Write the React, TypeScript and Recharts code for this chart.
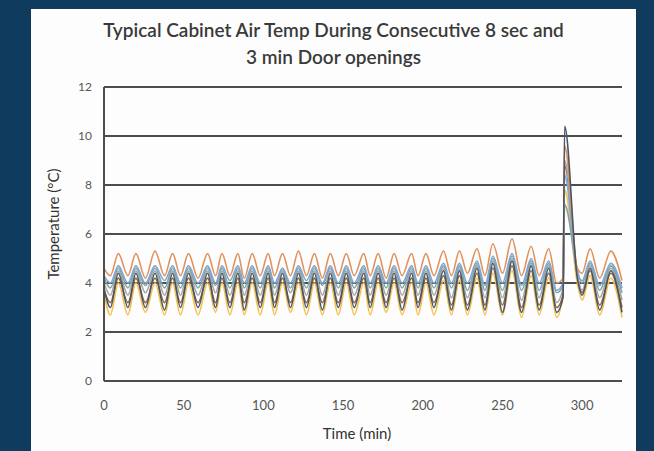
import { CartesianGrid, Line, LineChart, XAxis, YAxis } from "recharts";

// time (min) of each reading: troughs and peaks of the door-opening cycles, then the 3 min opening
const time = [
  0, 4, 9, 15, 20, 26, 32, 38, 43, 48,
  53, 59, 65, 70, 74, 79, 84, 88, 93, 98,
  103, 107, 112, 117, 122, 127, 132, 137, 142, 147,
  152, 157, 163, 167, 172, 177, 182, 187, 193, 197,
  202, 207, 213, 218, 223, 228, 234, 239, 244, 250,
  256, 262, 268, 273, 279, 284, 288, 289, 297, 300,
  305, 311, 318, 325,
];

const orange = [
  4.6, 4.3, 5.2, 4.3, 5.2, 4.2, 5.3, 4.3, 5.2, 4.3,
  5.2, 4.2, 5.2, 4.3, 5.2, 4.3, 5.2, 4.2, 5.2, 4.3,
  5.2, 4.3, 5.2, 4.3, 5.3, 4.3, 5.2, 4.2, 5.2, 4.3,
  5.2, 4.3, 5.2, 4.3, 5.2, 4.2, 5.2, 4.3, 5.2, 4.3,
  5.2, 4.3, 5.3, 4.3, 5.3, 4.4, 5.4, 4.3, 5.6, 4.4,
  5.8, 4.3, 5.5, 4.3, 5.4, 4.0, 4.2, 9.6, 4.6, 4.4,
  5.4, 4.2, 5.3, 4.1,
];

const lightBlue = [
  4.3, 4.0, 4.7, 4.0, 4.7, 4.0, 4.7, 4.1, 4.7, 4.0,
  4.7, 4.0, 4.7, 4.0, 4.7, 4.1, 4.7, 4.0, 4.7, 4.0,
  4.7, 4.0, 4.6, 4.0, 4.7, 4.1, 4.7, 4.0, 4.7, 4.0,
  4.7, 4.0, 4.7, 4.0, 4.7, 4.0, 4.7, 4.0, 4.7, 4.0,
  4.7, 4.0, 4.8, 4.0, 4.8, 4.0, 4.9, 3.9, 5.1, 4.0,
  5.2, 3.9, 5.0, 4.0, 4.9, 3.7, 4.0, 8.4, 4.4, 4.1,
  4.9, 3.9, 4.8, 3.8,
];

const gray = [
  4.0, 3.5, 4.5, 3.5, 4.5, 3.6, 4.5, 3.5, 4.5, 3.5,
  4.5, 3.5, 4.5, 3.6, 4.5, 3.5, 4.5, 3.5, 4.5, 3.5,
  4.5, 3.5, 4.5, 3.6, 4.5, 3.5, 4.5, 3.5, 4.5, 3.5,
  4.5, 3.5, 4.5, 3.5, 4.5, 3.5, 4.5, 3.5, 4.5, 3.5,
  4.5, 3.5, 4.6, 3.4, 4.6, 3.4, 4.7, 3.4, 4.9, 3.4,
  5.0, 3.3, 4.8, 3.4, 4.7, 3.2, 3.8, 9.0, 4.3, 3.7,
  4.7, 3.4, 4.6, 3.3,
];

const yellow = [
  3.6, 2.7, 4.0, 2.7, 4.0, 2.8, 4.0, 2.7, 4.0, 2.7,
  4.0, 2.7, 4.0, 2.8, 4.0, 2.7, 4.0, 2.7, 4.0, 2.7,
  4.0, 2.7, 4.0, 2.8, 4.0, 2.7, 4.0, 2.7, 4.0, 2.7,
  4.0, 2.7, 4.0, 2.7, 4.0, 2.8, 4.0, 2.7, 4.0, 2.7,
  4.0, 2.7, 4.1, 2.7, 4.1, 2.7, 4.2, 2.7, 4.4, 2.7,
  4.5, 2.6, 4.3, 2.7, 4.2, 2.6, 3.6, 7.8, 4.0, 3.3,
  4.3, 2.7, 4.2, 2.6,
];

const green = [
  4.2, 3.8, 4.6, 3.8, 4.6, 3.9, 4.6, 3.8, 4.6, 3.8,
  4.6, 3.8, 4.6, 3.9, 4.6, 3.8, 4.6, 3.8, 4.6, 3.8,
  4.6, 3.8, 4.6, 3.8, 4.6, 3.8, 4.6, 3.9, 4.6, 3.8,
  4.6, 3.8, 4.6, 3.8, 4.6, 3.8, 4.6, 3.8, 4.6, 3.8,
  4.6, 3.8, 4.7, 3.8, 4.7, 3.7, 4.8, 3.7, 5.0, 3.7,
  5.1, 3.7, 4.9, 3.7, 4.8, 3.6, 3.9, 7.2, 4.5, 4.0,
  4.8, 3.7, 4.7, 3.6,
];

const brown = [
  3.7, 3.2, 4.2, 3.2, 4.2, 3.2, 4.2, 3.2, 4.2, 3.2,
  4.2, 3.2, 4.2, 3.2, 4.2, 3.2, 4.2, 3.2, 4.2, 3.2,
  4.2, 3.2, 4.2, 3.2, 4.2, 3.2, 4.2, 3.2, 4.2, 3.2,
  4.2, 3.2, 4.2, 3.2, 4.2, 3.2, 4.2, 3.2, 4.2, 3.2,
  4.2, 3.2, 4.3, 3.1, 4.3, 3.1, 4.4, 3.1, 4.6, 3.1,
  4.7, 3.0, 4.5, 3.1, 4.4, 3.0, 3.5, 8.8, 4.3, 3.6,
  4.5, 3.1, 4.4, 3.0,
];

const dark = [
  3.8, 3.0, 4.4, 3.0, 4.4, 3.0, 4.4, 2.9, 4.4, 3.0,
  4.4, 3.0, 4.4, 3.0, 4.4, 3.0, 4.4, 2.9, 4.4, 3.0,
  4.4, 3.0, 4.4, 3.0, 4.4, 3.0, 4.4, 2.9, 4.4, 3.0,
  4.4, 3.0, 4.4, 3.0, 4.4, 3.0, 4.4, 2.9, 4.4, 3.0,
  4.4, 3.0, 4.5, 2.9, 4.5, 2.9, 4.6, 2.9, 4.8, 2.8,
  4.9, 2.8, 4.7, 2.9, 4.6, 2.8, 3.4, 10.4, 4.2, 3.5,
  4.6, 2.9, 4.5, 2.8,
];

const xTicks = [0, 50, 100, 150, 200, 250, 300];
const yTicks = [0, 2, 4, 6, 8, 10, 12];

const series = [
  { key: "yellow", values: yellow, color: "#f5c04a" },
  { key: "brown", values: brown, color: "#8a6a50" },
  { key: "gray", values: gray, color: "#a5a5a5" },
  { key: "green", values: green, color: "#7fa7a0" },
  { key: "lightBlue", values: lightBlue, color: "#7fa6d6" },
  { key: "orange", values: orange, color: "#e0925e" },
  { key: "dark", values: dark, color: "#4a5566" },
];

const data = time.map((t, i) => {
  const row: Record<string, number> = { time: t };
  series.forEach((s) => {
    row[s.key] = s.values[i];
  });
  return row;
});

const font = "Lato, 'Open Sans', sans-serif";

export default function App() {
  return (
    <div
      style={{
        position: "absolute",
        left: 0,
        top: 0,
        width: 654,
        height: 451,
        background: "#0f3c5e",
        overflow: "hidden",
        fontFamily: font,
      }}
    >
      <div
        style={{
          position: "absolute",
          left: 31,
          top: 9,
          width: 605,
          height: 442,
          background: "#fdfdfd",
        }}
      />
      <div
        style={{
          position: "absolute",
          left: 31,
          top: 16,
          width: 605,
          textAlign: "center",
          fontSize: 19,
          lineHeight: "27px",
          fontWeight: 600,
          color: "#3a3a3a",
        }}
      >
        Typical Cabinet Air Temp During Consecutive 8 sec and
        <br />
        3 min Door openings
      </div>
      <div
        style={{
          position: "absolute",
          left: 53,
          top: 224,
          transform: "translate(-50%, -50%) rotate(-90deg)",
          whiteSpace: "nowrap",
          fontSize: 15,
          color: "#333",
        }}
      >
        Temperature (°C)
      </div>
      <div style={{ position: "absolute", left: 0, top: 0 }}>
        <LineChart
          width={654}
          height={451}
          data={data}
          margin={{ top: 87, right: 32, bottom: 40, left: 74 }}
        >
          <CartesianGrid
            vertical={false}
            horizontal={true}
            stroke="#4d4d4d"
            strokeWidth={2}
          />
          <XAxis
            dataKey="time"
            type="number"
            domain={[0, 325]}
            ticks={xTicks}
            tickLine={false}
            axisLine={{ stroke: "#4d4d4d", strokeWidth: 2 }}
            tickMargin={14}
            height={30}
            tick={{ fill: "#555", fontSize: 13, fontFamily: font }}
            label={{
              value: "Time (min)",
              position: "insideBottom",
              offset: -28,
              dx: -6,
              style: { fill: "#333", fontSize: 15, fontFamily: font },
            }}
          />
          <YAxis
            type="number"
            domain={[0, 12]}
            ticks={yTicks}
            tickLine={false}
            axisLine={{ stroke: "#4d4d4d", strokeWidth: 2 }}
            tickMargin={6}
            width={30}
            tick={{ fill: "#555", fontSize: 12, fontFamily: font }}
          />
          {series.map((s) => (
            <Line
              key={s.key}
              dataKey={s.key}
              type="monotone"
              stroke={s.color}
              strokeWidth={1.6}
              dot={false}
              isAnimationActive={false}
            />
          ))}
        </LineChart>
      </div>
    </div>
  );
}
